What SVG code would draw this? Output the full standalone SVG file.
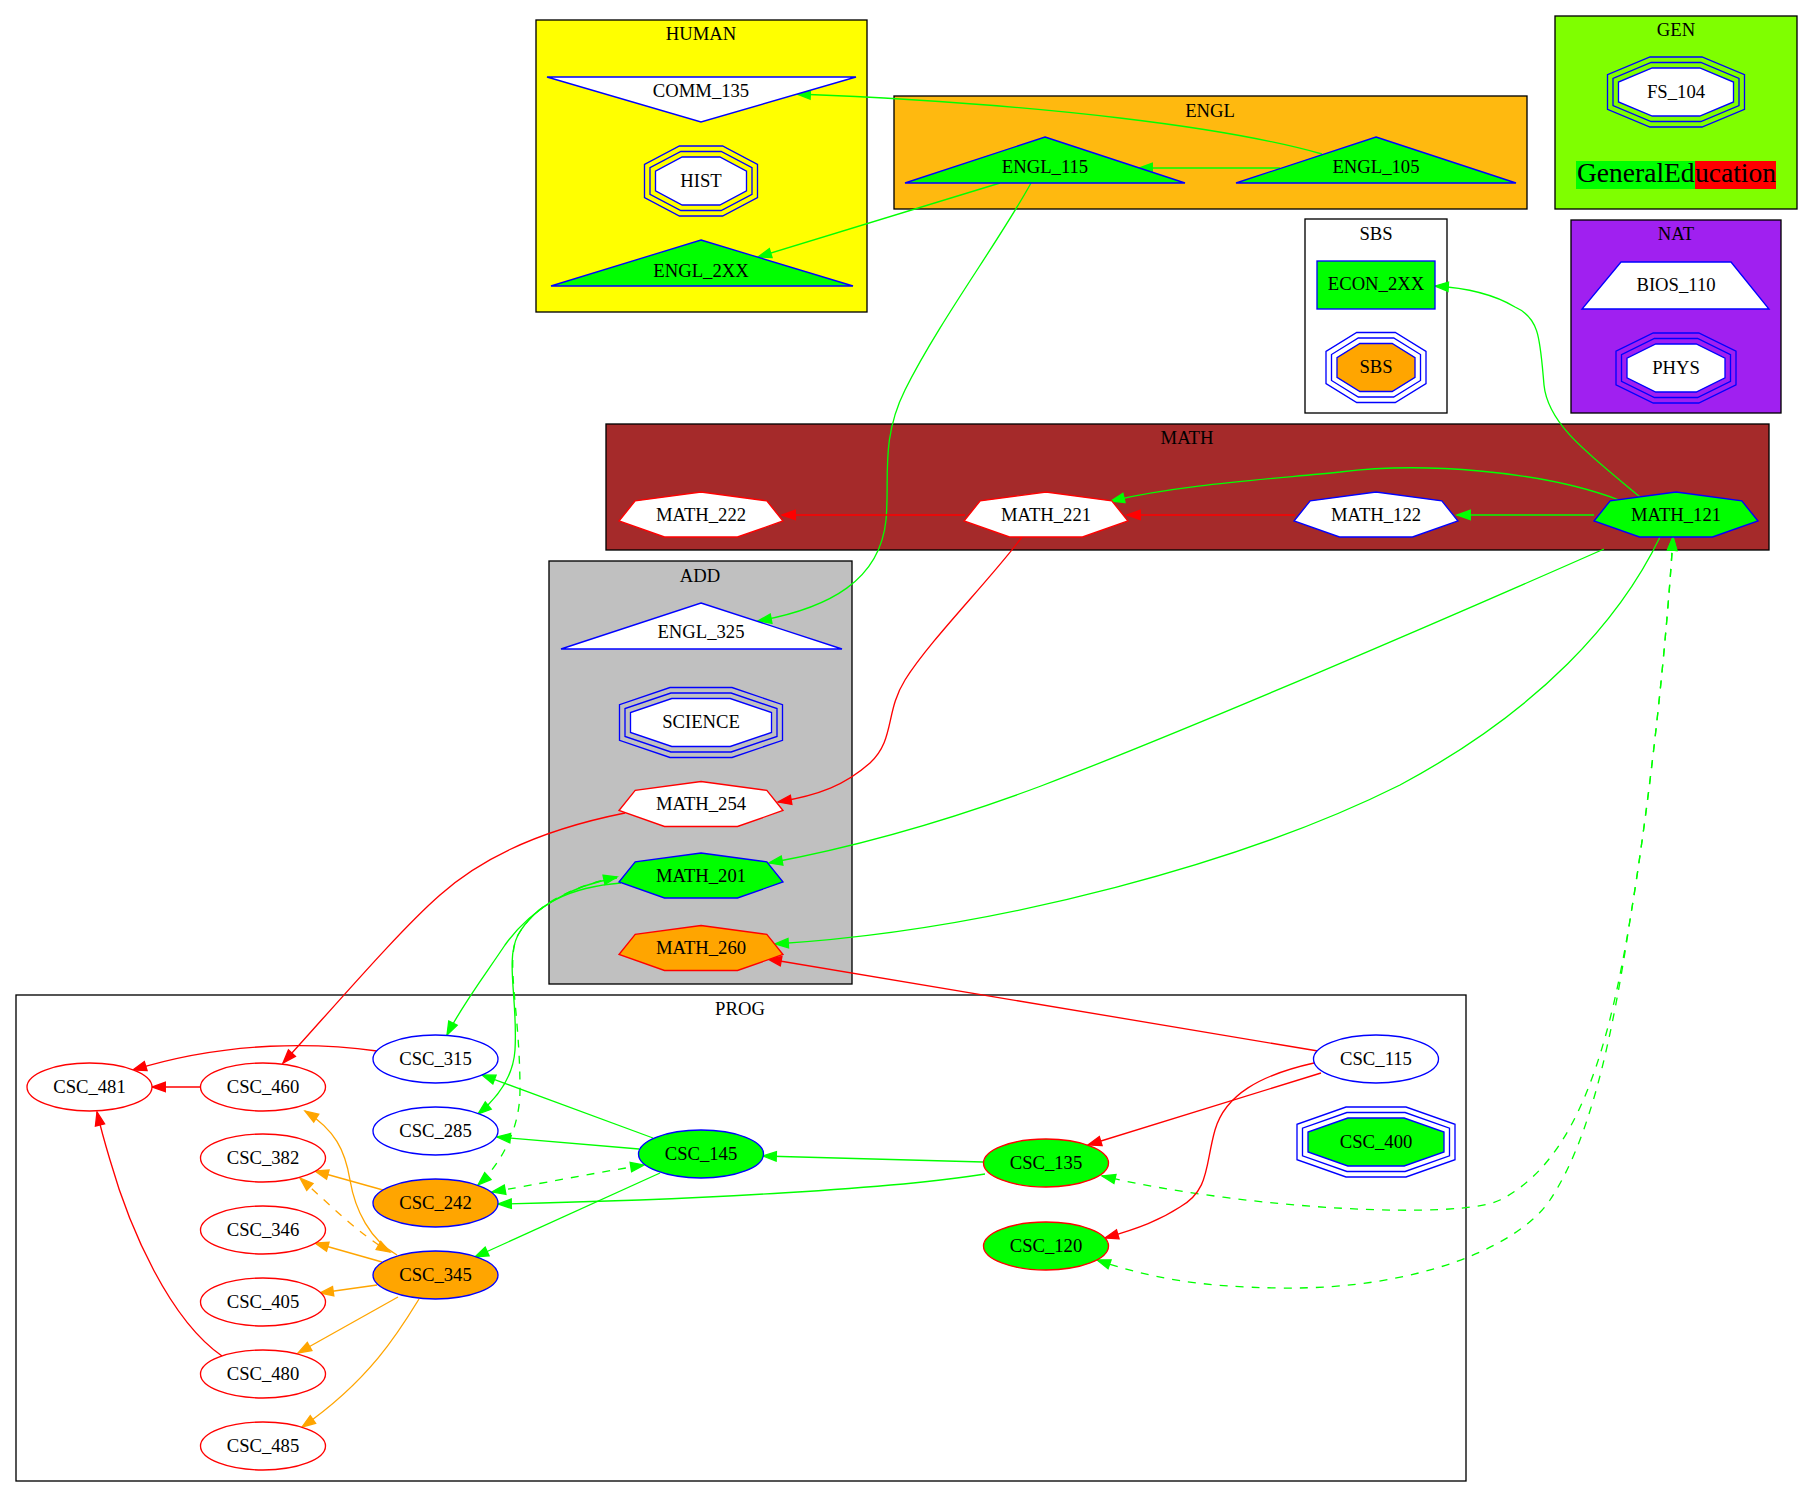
<svg xmlns="http://www.w3.org/2000/svg" xmlns:xlink="http://www.w3.org/1999/xlink" width="1813" height="1497" viewBox="0 0 1813 1497">
<style>
  text { font-family: "Liberation Serif", "Times New Roman", serif; font-size: 18.67px; text-anchor: middle; fill: #000; }
  .cluster { stroke: #000; stroke-width: 1.33; }
  .nb { stroke: #0000FF; stroke-width: 1.33; }
  .nr { stroke: #FF0000; stroke-width: 1.33; }
  .fw { fill: #FFFFFF; }
  .fg { fill: #00FF00; }
  .fo { fill: #FFA500; }
  .ring { fill: none; stroke: #0000FF; stroke-width: 1.33; }
  .e { fill: none; stroke-width: 1.33; }
  .g { stroke: #00FF00; }
  .r { stroke: #FF0000; }
  .o { stroke: #FFA500; }
  .d { stroke-dasharray: 8,8; }
  .g.ah { marker-end: url(#ag); }
  .r.ah { marker-end: url(#ar); }
  .o.ah { marker-end: url(#ao); }
  .g.both { marker-start: url(#ag); marker-end: url(#ag); }
  .o.both { marker-start: url(#ao); marker-end: url(#ao); }
</style>
<defs>
  <marker id="ag" viewBox="0 -6 16 12" markerWidth="16" markerHeight="12" refX="13.3" refY="0" orient="auto-start-reverse" markerUnits="userSpaceOnUse" overflow="visible">
    <path d="M0,-4.7 L13.3,0 L0,4.7 Z" fill="#00FF00" stroke="#00FF00" stroke-width="1.33"/>
  </marker>
  <marker id="ar" viewBox="0 -6 16 12" markerWidth="16" markerHeight="12" refX="13.3" refY="0" orient="auto-start-reverse" markerUnits="userSpaceOnUse" overflow="visible">
    <path d="M0,-4.7 L13.3,0 L0,4.7 Z" fill="#FF0000" stroke="#FF0000" stroke-width="1.33"/>
  </marker>
  <marker id="ao" viewBox="0 -6 16 12" markerWidth="16" markerHeight="12" refX="13.3" refY="0" orient="auto-start-reverse" markerUnits="userSpaceOnUse" overflow="visible">
    <path d="M0,-4.7 L13.3,0 L0,4.7 Z" fill="#FFA500" stroke="#FFA500" stroke-width="1.33"/>
  </marker>
  <!-- heptagon used by the MATH course nodes, centred on its bounding box -->
  <polygon id="hept" points="0,-22.5 65.8,-13.6 82,6.5 36.5,22.5 -36.5,22.5 -82,6.5 -65.8,-13.6"/>
</defs>

<rect width="1813" height="1497" fill="#FFFFFF"/>

<!-- clusters -->
<g id="cluster-HUMAN">
  <rect class="cluster" x="536" y="20" width="331" height="292" fill="#FFFF00"/>
  <text x="701" y="40">HUMAN</text>
</g>
<g id="cluster-ENGL">
  <rect class="cluster" x="894" y="96" width="633" height="113" fill="#FFB90F"/>
  <text x="1210" y="117">ENGL</text>
</g>
<g id="cluster-GEN">
  <rect class="cluster" x="1555" y="16" width="242" height="193" fill="#7FFF00"/>
  <text x="1676" y="36">GEN</text>
  <rect x="1576" y="161" width="119" height="28" fill="#00FF00"/>
  <rect x="1695" y="161" width="81" height="28" fill="#FF0000"/>
  <text x="1577" y="182" style="font-size:27.5px;text-anchor:start">GeneralEd<tspan x="1695">ucation</tspan></text>
</g>
<g id="cluster-SBS">
  <rect class="cluster" x="1305" y="219" width="142" height="194" fill="#FFFFFF"/>
  <text x="1376" y="240">SBS</text>
</g>
<g id="cluster-NAT">
  <rect class="cluster" x="1571" y="220" width="210" height="193" fill="#A020F0"/>
  <text x="1676" y="240">NAT</text>
</g>
<g id="cluster-MATH">
  <rect class="cluster" x="606" y="424" width="1163" height="126" fill="#A52A2A"/>
  <text x="1187" y="444">MATH</text>
</g>
<g id="cluster-ADD">
  <rect class="cluster" x="549" y="561" width="303" height="423" fill="#C0C0C0"/>
  <text x="700" y="582">ADD</text>
</g>
<g id="cluster-PROG">
  <rect class="cluster" x="16" y="995" width="1450" height="486" fill="#FFFFFF"/>
  <text x="740" y="1015">PROG</text>
</g>

<!-- connectors -->
<g id="edges">
  <!-- green -->
  <path class="e g ah" d="M1322,154 C1230,128 1050,104 797,94"/>
  <path class="e g ah" d="M1280,168 L1139,168"/>
  <path class="e g ah" d="M1000,183 L758,257"/>
  <path class="e g ah" d="M1031,183 C1000,240 940,320 905,390 C880,440 890,480 886,520 C880,580 830,608 758,621"/>
  <path class="e g ah" d="M1640,497 C1590,455 1548,425 1544,385 C1540,340 1540,318 1515,307 C1495,295 1470,288 1435,286"/>
  <path class="e g ah" d="M1594,515 L1457,515"/>
  <path class="e g ah" d="M1619,500 C1540,470 1420,462 1340,472 C1260,480 1180,485 1111,501"/>
  <path class="e g ah" d="M1604,549 C1450,617 1200,725 1041,786 C950,820 860,846 769,863"/>
  <path class="e g ah" d="M1660,537 C1620,620 1540,710 1400,785 C1250,860 1000,930 775,944"/>
  <path class="e g ah" d="M617,878 C570,885 530,910 505,945 C485,975 462,1005 447,1035"/>
  <path class="e g ah" d="M621,883 C570,887 535,905 518,935 C505,960 518,1000 515,1050 C513,1080 495,1100 478,1114"/>
  <path class="e g d both" d="M617,877 C570,887 535,905 518,935 C505,960 520,1010 520,1090 C520,1130 500,1165 478,1185"/>
  <path class="e g ah" d="M983,1162 L763,1156"/>
  <path class="e g ah" d="M985,1174 C900,1188 700,1200 498,1204"/>
  <path class="e g ah" d="M653,1138 L482,1075"/>
  <path class="e g ah" d="M639,1149 L497,1137"/>
  <path class="e g ah" d="M660,1173 L475,1257"/>
  <path class="e g d both" d="M492,1192 C560,1180 600,1172 644,1165"/>
  <path class="e g d both" d="M1673,537 C1666,650 1650,800 1630,920 C1610,1040 1580,1160 1500,1200 C1460,1220 1250,1210 1102,1176"/>
  <path class="e g d both" d="M1673,537 C1666,650 1650,800 1630,920 C1612,1040 1590,1140 1550,1200 C1520,1245 1420,1290 1280,1288 C1200,1287 1150,1278 1097,1260"/>
  <!-- red -->
  <path class="e r ah" d="M965,515 L782,515"/>
  <path class="e r ah" d="M1295,515 L1127,515"/>
  <path class="e r ah" d="M1022,537 C990,580 930,640 905,680 C885,712 895,740 870,763 C845,785 820,795 778,802"/>
  <path class="e r ah" d="M625,813 C560,826 490,850 440,895 C400,930 340,1000 283,1063"/>
  <path class="e r ah" d="M1318,1051 L768,959"/>
  <path class="e r ah" d="M1321,1073 L1088,1145"/>
  <path class="e r ah" d="M1314,1063 C1260,1075 1225,1095 1215,1130 C1205,1165 1210,1190 1180,1207 C1160,1220 1140,1228 1105,1238"/>
  <path class="e r ah" d="M377,1051 C320,1043 230,1040 133,1070"/>
  <path class="e r ah" d="M201,1087 L152,1087"/>
  <path class="e r ah" d="M222,1356 C170,1320 130,1230 110,1160 C104,1140 100,1125 97,1112"/>
  <!-- orange -->
  <path class="e o ah" d="M383,1190 L315,1171"/>
  <path class="e o d both" d="M300,1178 C330,1205 360,1235 390,1252"/>
  <path class="e o ah" d="M397,1255 C370,1240 355,1210 350,1180 C345,1150 335,1130 305,1111"/>
  <path class="e o ah" d="M382,1262 L315,1243"/>
  <path class="e o ah" d="M377,1285 L320,1293"/>
  <path class="e o ah" d="M398,1297 L298,1353"/>
  <path class="e o ah" d="M419,1299 C400,1330 370,1380 302,1427"/>
</g>

<!-- HUMAN nodes -->
<g id="node-COMM_135">
  <polygon class="nb fw" points="547,77 856,77 701,122"/>
  <text x="701" y="97">COMM_135</text>
</g>
<g id="node-HIST" transform="translate(701,181)">
  <polygon class="ring" points="-21.56,-35 21.56,-35 56.5,-16.57 56.5,16.57 21.56,35 -21.56,35 -56.5,16.57 -56.5,-16.57"/>
  <polygon class="ring" points="-20.2,-29.5 20.2,-29.5 51,-13.26 51,13.26 20.2,29.5 -20.2,29.5 -51,13.26 -51,-13.26"/>
  <polygon class="nb fw" points="-18.84,-24 18.84,-24 45.5,-9.94 45.5,9.94 18.84,24 -18.84,24 -45.5,9.94 -45.5,-9.94"/>
  <text x="0" y="5.5">HIST</text>
</g>
<g id="node-ENGL_2XX">
  <polygon class="nb fg" points="701,240 853,286 551,286"/>
  <text x="701" y="277">ENGL_2XX</text>
</g>

<!-- ENGL nodes -->
<g id="node-ENGL_115">
  <polygon class="nb fg" points="1045,137 1185,183 905,183"/>
  <text x="1045" y="173">ENGL_115</text>
</g>
<g id="node-ENGL_105">
  <polygon class="nb fg" points="1376,137 1516,183 1236,183"/>
  <text x="1376" y="173">ENGL_105</text>
</g>

<!-- GEN nodes -->
<g id="node-FS_104" transform="translate(1676,92)">
  <polygon class="ring" points="-26,-35 26,-35 68.5,-17.27 68.5,17.27 26,35 -26,35 -68.5,17.27 -68.5,-17.27"/>
  <polygon class="ring" points="-24.9,-29.5 24.9,-29.5 63,-13.6 63,13.6 24.9,29.5 -24.9,29.5 -63,13.6 -63,-13.6"/>
  <polygon class="nb fw" points="-23.8,-24 23.8,-24 57.5,-9.94 57.5,9.94 23.8,24 -23.8,24 -57.5,9.94 -57.5,-9.94"/>
  <text x="0" y="5.5">FS_104</text>
</g>

<!-- SBS nodes -->
<g id="node-ECON_2XX">
  <rect class="nb fg" x="1317" y="261" width="118" height="48"/>
  <text x="1376" y="290">ECON_2XX</text>
</g>
<g id="node-SBS" transform="translate(1376,367.5)">
  <polygon class="ring" points="-19.3,-35 19.3,-35 50,-16.1 50,16.1 19.3,35 -19.3,35 -50,16.1 -50,-16.1"/>
  <polygon class="ring" points="-17.7,-29.5 17.7,-29.5 44.5,-13 44.5,13 17.7,29.5 -17.7,29.5 -44.5,13 -44.5,-13"/>
  <polygon class="nb fo" points="-16.15,-24 16.15,-24 39,-9.94 39,9.94 16.15,24 -16.15,24 -39,9.94 -39,-9.94"/>
  <text x="0" y="5.5">SBS</text>
</g>

<!-- NAT nodes -->
<g id="node-BIOS_110">
  <polygon class="nb fw" points="1621,262 1731,262 1769,309 1582,309"/>
  <text x="1676" y="291">BIOS_110</text>
</g>
<g id="node-PHYS" transform="translate(1676,368)">
  <polygon class="ring" points="-22.8,-35 22.8,-35 60,-16.8 60,16.8 22.8,35 -22.8,35 -60,16.8 -60,-16.8"/>
  <polygon class="ring" points="-21.6,-29.5 21.6,-29.5 54.5,-13.4 54.5,13.4 21.6,29.5 -21.6,29.5 -54.5,13.4 -54.5,-13.4"/>
  <polygon class="nb fw" points="-20.29,-24 20.29,-24 49,-9.94 49,9.94 20.29,24 -20.29,24 -49,9.94 -49,-9.94"/>
  <text x="0" y="5.5">PHYS</text>
</g>

<!-- MATH nodes -->
<g id="node-MATH_222">
  <use xlink:href="#hept" href="#hept" class="nr fw" transform="translate(701,514.5)"/>
  <text x="701" y="521">MATH_222</text>
</g>
<g id="node-MATH_221">
  <use xlink:href="#hept" href="#hept" class="nr fw" transform="translate(1046,514.5)"/>
  <text x="1046" y="521">MATH_221</text>
</g>
<g id="node-MATH_122">
  <use xlink:href="#hept" href="#hept" class="nb fw" transform="translate(1376,514.5)"/>
  <text x="1376" y="521">MATH_122</text>
</g>
<g id="node-MATH_121">
  <use xlink:href="#hept" href="#hept" class="nb fg" transform="translate(1676,514.5)"/>
  <text x="1676" y="521">MATH_121</text>
</g>

<!-- ADD nodes -->
<g id="node-ENGL_325">
  <polygon class="nb fw" points="701,603 842,649 561,649"/>
  <text x="701" y="638">ENGL_325</text>
</g>
<g id="node-SCIENCE" transform="translate(701,722.5)">
  <polygon class="ring" points="-31,-35 31,-35 81.5,-17.8 81.5,17.8 31,35 -31,35 -81.5,17.8 -81.5,-17.8"/>
  <polygon class="ring" points="-30.1,-29.5 30.1,-29.5 76,-13.9 76,13.9 30.1,29.5 -30.1,29.5 -76,13.9 -76,-13.9"/>
  <polygon class="nb fw" points="-29.19,-24 29.19,-24 70.5,-9.94 70.5,9.94 29.19,24 -29.19,24 -70.5,9.94 -70.5,-9.94"/>
  <text x="0" y="5.5">SCIENCE</text>
</g>
<g id="node-MATH_254">
  <use xlink:href="#hept" href="#hept" class="nr fw" transform="translate(701,804)"/>
  <text x="701" y="810">MATH_254</text>
</g>
<g id="node-MATH_201">
  <use xlink:href="#hept" href="#hept" class="nb fg" transform="translate(701,875.5)"/>
  <text x="701" y="882">MATH_201</text>
</g>
<g id="node-MATH_260">
  <use xlink:href="#hept" href="#hept" class="nr fo" transform="translate(701,948)"/>
  <text x="701" y="954">MATH_260</text>
</g>

<!-- PROG nodes -->
<g id="node-CSC_481"><ellipse class="nr fw" cx="89.5" cy="1087" rx="62.5" ry="24"/><text x="89.5" y="1093">CSC_481</text></g>
<g id="node-CSC_460"><ellipse class="nr fw" cx="263" cy="1087" rx="62.5" ry="24"/><text x="263" y="1093">CSC_460</text></g>
<g id="node-CSC_382"><ellipse class="nr fw" cx="263" cy="1158" rx="62.5" ry="24"/><text x="263" y="1164">CSC_382</text></g>
<g id="node-CSC_346"><ellipse class="nr fw" cx="263" cy="1230" rx="62.5" ry="24"/><text x="263" y="1236">CSC_346</text></g>
<g id="node-CSC_405"><ellipse class="nr fw" cx="263" cy="1302" rx="62.5" ry="24"/><text x="263" y="1308">CSC_405</text></g>
<g id="node-CSC_480"><ellipse class="nr fw" cx="263" cy="1374" rx="62.5" ry="24"/><text x="263" y="1380">CSC_480</text></g>
<g id="node-CSC_485"><ellipse class="nr fw" cx="263" cy="1446" rx="62.5" ry="24"/><text x="263" y="1452">CSC_485</text></g>
<g id="node-CSC_315"><ellipse class="nb fw" cx="435.5" cy="1059" rx="62.5" ry="24"/><text x="435.5" y="1065">CSC_315</text></g>
<g id="node-CSC_285"><ellipse class="nb fw" cx="435.5" cy="1131" rx="62.5" ry="24"/><text x="435.5" y="1137">CSC_285</text></g>
<g id="node-CSC_242"><ellipse class="nb fo" cx="435.5" cy="1203" rx="62.5" ry="24"/><text x="435.5" y="1209">CSC_242</text></g>
<g id="node-CSC_345"><ellipse class="nb fo" cx="435.5" cy="1275" rx="62.5" ry="24"/><text x="435.5" y="1281">CSC_345</text></g>
<g id="node-CSC_145"><ellipse class="nb fg" cx="701" cy="1154" rx="62.5" ry="24"/><text x="701" y="1160">CSC_145</text></g>
<g id="node-CSC_135"><ellipse class="nr fg" cx="1046" cy="1163" rx="62.5" ry="24"/><text x="1046" y="1169">CSC_135</text></g>
<g id="node-CSC_120"><ellipse class="nr fg" cx="1046" cy="1246" rx="62.5" ry="24"/><text x="1046" y="1252">CSC_120</text></g>
<g id="node-CSC_115"><ellipse class="nb fw" cx="1376" cy="1059" rx="62.5" ry="24"/><text x="1376" y="1065">CSC_115</text></g>
<g id="node-CSC_400" transform="translate(1376,1142)">
  <polygon class="ring" points="-30,-35 30,-35 79,-17.7 79,17.7 30,35 -30,35 -79,17.7 -79,-17.7"/>
  <polygon class="ring" points="-29.1,-29.5 29.1,-29.5 73.5,-13.8 73.5,13.8 29.1,29.5 -29.1,29.5 -73.5,13.8 -73.5,-13.8"/>
  <polygon class="nb fg" points="-28.15,-24 28.15,-24 68,-9.94 68,9.94 28.15,24 -28.15,24 -68,9.94 -68,-9.94"/>
  <text x="0" y="5.5">CSC_400</text>
</g>
</svg>
